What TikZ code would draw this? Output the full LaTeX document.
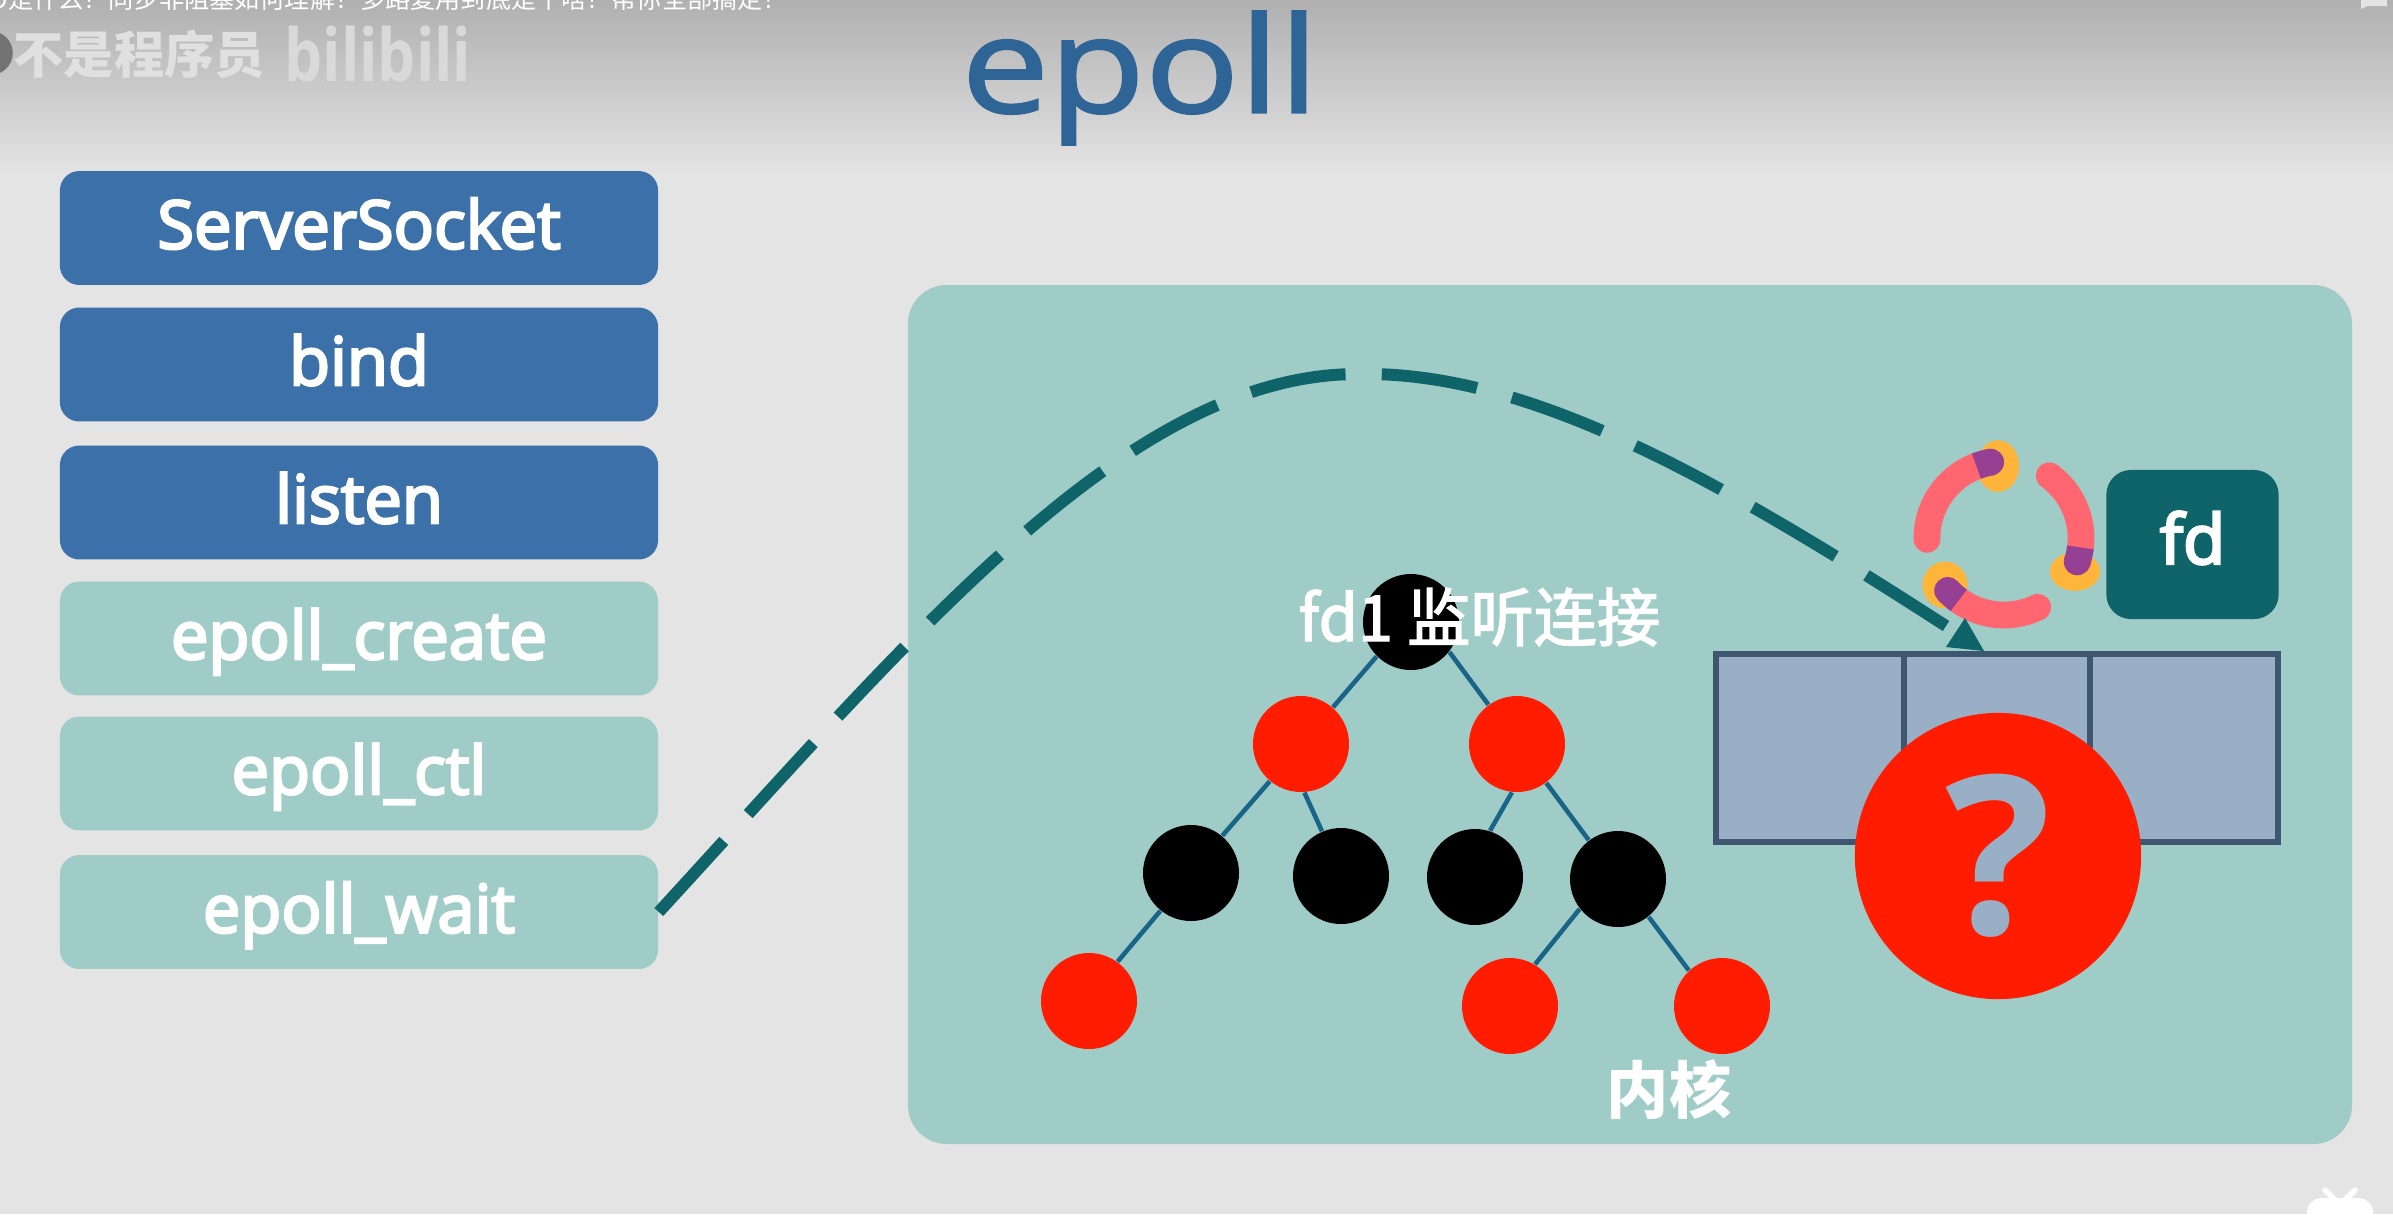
\documentclass[tikz,border=0pt]{standalone}
\usepackage{fontspec}
\setmainfont{Open Sans}
\newfontfamily\barfont[FakeBold=3.8]{Open Sans}
\newfontfamily\titlefont[FakeBold=1.5]{Open Sans}
\newfontfamily\cjk{Noto Sans CJK SC}
\newfontfamily\cjkmid[FakeBold=2.2]{Noto Sans CJK SC}
\usetikzlibrary{arrows.meta, positioning, calc, shapes.geometric}
\definecolor{pagegray}{HTML}{E4E4E4}
\definecolor{barblue}{HTML}{3B70A9}
\definecolor{barteal}{HTML}{A0CCC8}
\definecolor{darkteal}{HTML}{0E6469}
\definecolor{treeline}{HTML}{1A6488}
\definecolor{treered}{HTML}{FF1C00}
\definecolor{slotfill}{HTML}{98AFC5}
\definecolor{slotline}{HTML}{3F5670}
\definecolor{titleblue}{HTML}{2F6596}
\definecolor{ringpink}{HTML}{FF6670}
\definecolor{ringgold}{HTML}{FFB53A}
\definecolor{ringpurple}{HTML}{964094}
\tikzset{
  stepbar/.style={rounded corners=5.5pt, minimum width=170.1pt, minimum height=32.4pt, inner sep=0pt,
    text=white, text height=14pt, text depth=2.3pt, font=\barfont\fontsize{19}{20}\selectfont},
  apibar/.style={stepbar, fill=barblue},
  callbar/.style={stepbar, fill=barteal},
  rbnode/.style={circle, minimum size=27.3pt, inner sep=0pt},
  rednode/.style={rbnode, fill=treered},
  blacknode/.style={rbnode, fill=black},
  treeedge/.style={treeline, line width=1.3pt},
  ringarc/.style={ringpink, line width=7.6pt, line cap=round},
  ringtip/.style={ringpurple, line width=7.6pt},
  ringblob/.style={ellipse, fill=ringgold, inner sep=0pt}
}
\begin{document}
\begin{tikzpicture}[x=.01cm, y=-.01cm, >=Stealth]
        \useasboundingbox (0,0) rectangle (2393,1214);
        \fill[pagegray] (0,0) rectangle (2393,1214);
        \shade[top color=black!31, bottom color=pagegray] (0,0) rectangle (2393,175);
        
        % top strip of the video frame
        \begin{scope}
        \clip (0,0) rectangle (2393,1214);
        \node[anchor=west, text=white, inner sep=0pt, font=\cjk\fontsize{7.15}{8}\selectfont] (subtitle) at (-11,-1.5) {O是什么？同步非阻塞如何理解？多路复用到底是个啥？帮你全部搞定！};
        \node[circle, fill=black!55, minimum size=12.4pt, inner sep=0pt] (avatar) at (-9,53) {};
        \node[anchor=west, text=black!12, inner sep=0pt, font=\cjk\bfseries\fontsize{14.3}{15}\selectfont] (uploader) at (13,54) {不是程序员};
        \node[anchor=west, text=black!15, inner sep=0pt, xscale=1.07, yscale=1.3, font=\bfseries\fontsize{16}{17}\selectfont] (sitemark) at (284,54) {bilibili};
        \fill[pagegray] (2361,0) -- (2361,9) -- (2368,6) -- (2387,6) -- (2387,0) -- cycle;
        \fill[white, rounded corners=4pt] (2307,1230) -- (2307,1198) -- (2373,1198) -- (2373,1230) -- cycle;
        \draw[white, line width=1.6pt, line cap=round] (2325,1190) -- (2335,1200);
        \draw[white, line width=1.6pt, line cap=round] (2355,1190) -- (2345,1200);
        \end{scope}
        
        \node[text=titleblue, xscale=1.17, font=\titlefont\fontsize{38}{40}\selectfont] (title) at (1140,78) {epoll};
        
        \node[apibar] (socket) at (359,228) {ServerSocket};
        \node[apibar] (bind) at (359,364.5) {bind};
        \node[apibar] (listen) at (359,502.5) {listen};
        \node[callbar] (create) at (359,638.5) {epoll\_create};
        \node[callbar] (ctl) at (359,773.5) {epoll\_ctl};
        \node[callbar] (wait) at (359,912) {epoll\_wait};
        
        \fill[barteal, rounded corners=11pt] (908,285) rectangle (2352,1144);
        
        % red-black tree
        \node[blacknode] (root) at (1411,622) {};
        \node[rednode] (redl) at (1301,744) {};
        \node[rednode] (redr) at (1517,744) {};
        \node[blacknode] (blacka) at (1191,873) {};
        \node[blacknode] (blackb) at (1341,876) {};
        \node[blacknode] (blackc) at (1475,877) {};
        \node[blacknode] (blackd) at (1618,879) {};
        \node[rednode] (leafa) at (1089,1001) {};
        \node[rednode] (leafb) at (1510,1006) {};
        \node[rednode] (leafc) at (1722,1006) {};
        \foreach \from/\to in {root.-135/redl.49, root.-38/redr.126, redl.-130/blacka.50, redl.-86/blackb.113, redr.-96/blackc.72, redr.-53/blackd.127, blacka.-129/leafa.54, blackd.-142/leafb.59, blackd.-51/leafc.133}
        \draw[treeedge] (\from) -- (\to);
        
        \node[text=white, anchor=west, inner sep=0pt, font=\cjkmid\fontsize{18}{20}\selectfont] (fdlabel) at (1298,617) {fd1 监听连接};
        \node[text=white, inner sep=0pt, font=\cjk\bfseries\fontsize{17.7}{20}\selectfont] (kernel) at (1669,1090) {内核};
        
        % ready list
        \draw[fill=slotfill, draw=slotline, line width=1.7pt] (1716,654) rectangle (2278,842);
        \draw[slotline, line width=1.7pt] (1903.5,654) -- (1903.5,842);
        \draw[slotline, line width=1.7pt] (2090,654) -- (2090,842);
        \node[circle, fill=treered, minimum size=81.4pt, inner sep=0pt] (unknown) at (1998,856) {};
        \node[text=slotfill, inner sep=0pt, font=\bfseries\fontsize{63}{64}\selectfont] (mark) at (unknown) {?};
        
        % fd and its ring
        \node[fill=darkteal, rounded corners=7pt, minimum width=49pt, minimum height=42.4pt, inner sep=0pt, text=white,
          text height=14pt, text depth=3pt, font=\barfont\fontsize{19.5}{23}\selectfont] (fdbox) at (2192.5,544.5) {fd};
        \node[ringblob, minimum width=12pt, minimum height=14.7pt] (bloba) at (1998,466) {};
        \node[ringblob, minimum width=14.2pt, minimum height=11pt] (blobb) at (2075,571.5) {};
        \node[ringblob, minimum width=12.8pt, minimum height=13.3pt] (blobc) at (1945,585) {};
        \coordinate (ringc) at (2004,538);
        \foreach \a/\b/\c in {-181/-111/-100, -54/7/18, 64/126/137}
        {\draw[ringarc] ($(ringc)+(\a:77)$) arc[start angle=\a, end angle=\c, radius=77];
        \draw[ringtip] ($(ringc)+(\b:77)$) arc[start angle=\b, end angle=\c, radius=77];
        \fill[ringpurple] ($(ringc)+(\c:77)$) circle[radius=13.4];
        }
        
        % dashed path from epoll_wait to the list
        \coordinate (curvetop) at (1358,374);
        \coordinate (curveend) at (1946,626);
        \draw[darkteal, line width=3.4pt, dash pattern=on 27.4pt off 10.3pt] (wait.east) .. controls (916,632) and (1129,374) .. (curvetop)
          .. controls (1526,371) and (1709,473) .. (curveend);
        \fill[darkteal] (1965,618) -- (1984,651) -- (1946,647) -- cycle;
        
\end{tikzpicture}
\end{document}
